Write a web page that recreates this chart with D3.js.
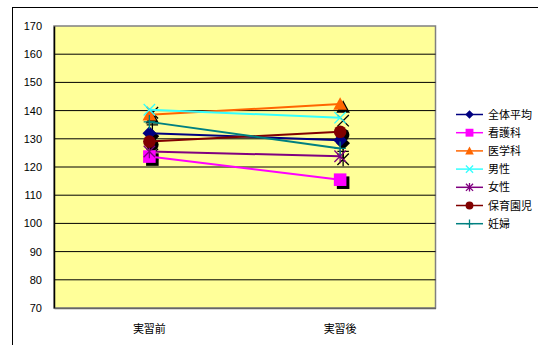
<!DOCTYPE html>
<html><head><meta charset="utf-8">
<script src="https://cdn.jsdelivr.net/npm/d3@7"></script>
<style>body{margin:0;background:#fff}svg{display:block;font-family:"Liberation Sans",Arial,"Noto Sans CJK JP",sans-serif}</style>
</head><body>
<script>
const categories = ["実習前", "実習後"];
const seriesNames = ["全体平均", "看護科", "医学科", "男性", "女性", "保育園児", "妊婦"];
const val_zentai = [132, 129.5];
const val_kango = [123.7, 115.5];
const val_igaku = [138.5, 142.3];
const val_dansei = [140.3, 137.5];
const val_josei = [125.5, 123.8];
const val_hoiku = [129, 132.5];
const val_ninpu = [136, 126.6];
const yTicks = [70, 80, 90, 100, 110, 120, 130, 140, 150, 160, 170];

const seriesValues = [val_zentai, val_kango, val_igaku, val_dansei, val_josei, val_hoiku, val_ninpu];
const colors = ["#000080", "#FF00FF", "#FF6600", "#33FFFF", "#800080", "#800000", "#008080"];
const markers = ["diamond", "square", "triangle", "x", "star", "circle", "plus"];

const W = 538, H = 345;
const svg = d3.select("body").append("svg").attr("width", W).attr("height", H);

// outer frame
svg.append("rect").attr("x", 12.5).attr("y", 7.5).attr("width", 560).attr("height", 360)
  .attr("fill", "none").attr("stroke", "#000").attr("stroke-width", 1);

const L = 54, R = 435.5, T = 26, B = 308;
const x = d3.scaleBand().domain(categories).range([L, R]);
const y = d3.scaleLinear().domain([70, 170]).range([B, T]);

svg.append("rect").attr("x", L).attr("y", T).attr("width", R - L).attr("height", B - T)
  .attr("fill", "#FFFF99").attr("stroke", "#808080").attr("stroke-width", 1.5);

// gridlines
svg.append("g").selectAll("line").data(yTicks.filter(t => t > 70 && t < 170)).join("line")
  .attr("x1", L).attr("x2", R).attr("y1", d => y(d)).attr("y2", d => y(d))
  .attr("stroke", "#000").attr("stroke-width", 1);

// y axis
const yAxis = svg.append("g").attr("transform", `translate(${L},0)`)
  .call(d3.axisLeft(y).tickValues(yTicks).tickSize(0).tickPadding(12));
yAxis.select(".domain").attr("stroke", "#000").attr("stroke-width", 1.5);
yAxis.selectAll("text").attr("font-size", 11).attr("fill", "#000")
  .attr("font-family", "'Liberation Sans', Arial, sans-serif");

// x axis
const xAxis = svg.append("g").attr("transform", `translate(0,${B})`)
  .call(d3.axisBottom(x).tickSize(0).tickPadding(17));
xAxis.select(".domain").attr("stroke", "#666").attr("stroke-width", 1.5);
xAxis.selectAll("text").attr("font-size", 11).attr("fill", "#000")
  .attr("font-family", "'Noto Sans CJK JP', sans-serif");

function drawMarker(g, type, cx, cy, color, s) {
  const k = s / 7;
  if (type === "diamond") {
    g.append("path").attr("d", `M${cx},${cy-6*k}L${cx+6*k},${cy}L${cx},${cy+6*k}L${cx-6*k},${cy}Z`).attr("fill", color);
  } else if (type === "square") {
    g.append("rect").attr("x", cx-5.5*k).attr("y", cy-5.5*k).attr("width", 11*k).attr("height", 11*k).attr("fill", color);
  } else if (type === "triangle") {
    g.append("path").attr("d", `M${cx},${cy-6*k}L${cx+6*k},${cy+5*k}L${cx-6*k},${cy+5*k}Z`).attr("fill", color);
  } else if (type === "circle") {
    g.append("circle").attr("cx", cx).attr("cy", cy).attr("r", 5.5*k).attr("fill", color);
  } else if (type === "x") {
    g.append("path").attr("d", `M${cx-5*k},${cy-5*k}L${cx+5*k},${cy+5*k}M${cx-5*k},${cy+5*k}L${cx+5*k},${cy-5*k}`)
      .attr("stroke", color).attr("stroke-width", 1.3);
  } else if (type === "star") {
    g.append("path").attr("d", `M${cx-5*k},${cy-5*k}L${cx+5*k},${cy+5*k}M${cx-5*k},${cy+5*k}L${cx+5*k},${cy-5*k}M${cx},${cy-6*k}L${cx},${cy+6*k}`)
      .attr("stroke", color).attr("stroke-width", 1.3);
  } else if (type === "plus") {
    g.append("path").attr("d", `M${cx-5*k},${cy}L${cx+5*k},${cy}M${cx},${cy-6*k}L${cx},${cy+6*k}`)
      .attr("stroke", color).attr("stroke-width", 1.3);
  }
}

const cxOf = c => x(c) + x.bandwidth() / 2;
const line = d3.line().x((d, i) => cxOf(categories[i])).y(d => y(d));

// shadows
const shadowG = svg.append("g");
seriesValues.forEach((vals, si) => {
  vals.forEach((v, i) => drawMarker(shadowG, markers[si], cxOf(categories[i]) + 3, y(v) + 3, "#000", 8));
});

seriesValues.forEach((vals, si) => {
  svg.append("path").datum(vals).attr("d", line).attr("fill", "none")
    .attr("stroke", colors[si]).attr("stroke-width", 2);
});
seriesValues.forEach((vals, si) => {
  const g = svg.append("g");
  vals.forEach((v, i) => drawMarker(g, markers[si], cxOf(categories[i]), y(v), colors[si], 8));
});

// legend
const lg = svg.append("g");
seriesNames.forEach((n, i) => {
  const ly = 114.5 + i * 18.2;
  lg.append("line").attr("x1", 456).attr("x2", 483).attr("y1", ly).attr("y2", ly)
    .attr("stroke", colors[i]).attr("stroke-width", 1.5);
  drawMarker(lg, markers[i], 469.5, ly, colors[i], 5);
  lg.append("text").attr("x", 488).attr("y", ly + 4).attr("font-size", 11)
    .attr("font-family", "'Noto Sans CJK JP', sans-serif").attr("fill", "#000").text(n);
});
</script>
</body></html>
